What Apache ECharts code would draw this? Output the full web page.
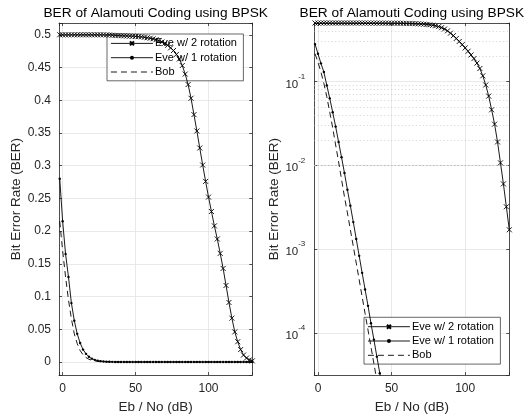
<!DOCTYPE html>
<html>
<head>
<meta charset="utf-8">
<script src="https://cdn.jsdelivr.net/npm/echarts@6/dist/echarts.min.js"></script>
<style>
html,body{margin:0;padding:0;background:#fff;}
#chart{width:531px;height:419px;}
</style>
</head>
<body>
<div id="chart"></div>
<script>
// ---- data ----
const ebNo = [-2,0,2,4,6,8,10,12,14,16,18,20,22,24,26,28,30,32,34,36,38,40,42,44,46,48,50,
  52,54,56,58,60,62,64,66,68,70,72,74,76,78,80,82,84,86,88,90,92,94,96,98,100,
  102,104,106,108,110,112,114,116,118,120,122,124,126,128,130];

const eve2Rot = [0.5,0.5,0.5,0.5,0.5,0.5,0.5,0.5,0.5,0.5,0.5,0.5,0.5,0.5,0.5,0.5,
  0.4998,0.4996,0.4993,0.499,0.4988,0.4986,0.4984,0.4982,0.498,0.4978,0.4975,0.4972,0.4968,0.4962,0.4955,
  0.4947,0.4938,0.4925,0.491,0.489,0.487,0.484,0.48,0.476,0.47,0.463,0.453,0.44,0.424,0.403,
  0.378,0.353,0.327,0.301,0.276,0.252,0.23,0.208,0.188,0.166,0.143,0.117,0.091,0.067,0.046,0.031,0.019,0.0107,0.006,0.0032,0.0017];

const eve1Rot = [0.28,0.215,0.165,0.13,0.09,0.063,0.043,0.029,0.019,0.0125,0.0081,0.0051,0.0033,0.0021,0.00132,0.00083,
  0.00052,0.00033,0.00021,0.00013,0.000083,0.000052,0.000033,0.000021,0.000013,0.000008,
  0,0,0,0,0,0,0,0,0,0,0,0,0,0,0,0,0,0,0,0,0,0,0,0,0,0,0,0,0,0,0,0,0,0,0,0,0,0,0,0,0];

const bob = [0.215,0.17,0.13,0.095,0.066,0.043,0.028,0.0175,0.011,0.0068,0.0042,0.0027,0.0017,0.00108,0.00068,0.00043,
  0.00027,0.00017,0.000108,0.000068,0.000043,0.000027,0.000017,0.000011,0.000007,
  0,0,0,0,0,0,0,0,0,0,0,0,0,0,0,0,0,0,0,0,0,0,0,0,0,0,0,0,0,0,0,0,0,0,0,0,0,0,0,0,0,0];

const seriesNames = ['Eve w/ 2 rotation','Eve w/ 1 rotation','Bob'];
const titleText = 'BER of Alamouti Coding using BPSK';
const xName = 'Eb / No (dB)';
const yName = 'Bit Error Rate (BER)';
const xTicks = [0,50,100];
const yTicksLin = [0,0.05,0.1,0.15,0.2,0.25,0.3,0.35,0.4,0.45,0.5];
const logTicks = [1e-4,1e-3,1e-2,1e-1];
const logMinor = [4e-5,5e-5,6e-5,7e-5,8e-5,9e-5,2e-4,3e-4,4e-4,5e-4,6e-4,7e-4,8e-4,9e-4,
  2e-3,3e-3,4e-3,5e-3,6e-3,7e-3,8e-3,9e-3,2e-2,3e-2,4e-2,5e-2,6e-2,7e-2,8e-2,9e-2,0.2,0.3,0.4];

// ---- layout / styles ----
const FONT = 'Liberation Sans, Arial, sans-serif';
const AX = '#262626';
const GRIDC = '#e3e3e3';
const xMin = -2.5, xMax = 130;
const linMin = -0.02, linMax = 0.518;
const logMin = 3.13e-5, logMax = 0.5;
const xSym = 'path://M0,0L10,10M10,0L0,10';

function pairs(ys, forLog){
  return ebNo.map((x,i)=>[x, (forLog && ys[i] <= 0) ? null : ys[i]]);
}
function near(v, list){ return list.some(t => Math.abs(t - v) < 1e-9); }

function xAxisDef(gridIndex, pos, labels){
  return {
    type:'value', gridIndex, position:pos, min:xMin, max:xMax, splitNumber:3,
    axisLine:{show:true, onZero:false, lineStyle:{color:AX, width:0.8}},
    axisTick:{show:true, inside:true, length:3, lineStyle:{color:AX, width:0.8}},
    axisLabel:{show:labels, margin:8, fontSize:12, fontFamily:FONT, color:AX,
      formatter:(v)=> near(v, xTicks) ? String(v) : ''},
    splitLine:{show:labels, lineStyle:{color:GRIDC, width:0.8}},
    name: labels && pos==='bottom' ? xName : '', nameLocation:'middle', nameGap:24.5,
    nameTextStyle:{fontSize:13.5, fontFamily:FONT, color:AX}
  };
}
function yLinDef(pos, labels){
  return {
    type:'value', gridIndex:0, position:pos, min:linMin, max:linMax, splitNumber:10,
    axisLine:{show:true, onZero:false, lineStyle:{color:AX, width:0.8}},
    axisTick:{show:true, inside:true, length:3, lineStyle:{color:AX, width:0.8}},
    axisLabel:{show:labels, margin:8, fontSize:12, fontFamily:FONT, color:AX,
      formatter:(v)=> near(v, yTicksLin) ? String(+v.toFixed(2)) : ''},
    splitLine:{show:labels, lineStyle:{color:GRIDC, width:0.8}},
    name: labels ? yName : '', nameLocation:'middle', nameGap:28,
    nameTextStyle:{fontSize:13.5, fontFamily:FONT, color:AX}
  };
}
function yLogDef(pos, labels){
  return {
    type:'log', logBase:10, gridIndex:1, position:pos, min:logMin, max:logMax,
    axisLine:{show:true, onZero:false, lineStyle:{color:AX, width:0.8}},
    axisTick:{show:true, inside:true, length:3, lineStyle:{color:AX, width:0.8}},
    axisLabel:{show:labels, margin:9, fontFamily:FONT, color:AX,
      formatter:(v)=>{
        const e = Math.round(Math.log10(v));
        if (!logTicks.some(t => Math.abs(Math.log10(t) - Math.log10(v)) < 1e-6)) return '';
        return '{b|10}{e|' + e + '}';
      },
      rich:{
        b:{fontSize:11.5, fontFamily:FONT, color:AX, lineHeight:18, verticalAlign:'bottom'},
        e:{fontSize:8, fontFamily:FONT, color:AX, lineHeight:10, verticalAlign:'top'}
      }
    },
    splitLine:{show:labels, lineStyle:{color:GRIDC, width:0.8}},
    name: labels ? yName : '', nameLocation:'middle', nameGap:25.5,
    nameTextStyle:{fontSize:13.5, fontFamily:FONT, color:AX}
  };
}

function makeSeries(gridIdx, forLog){
  const xi = gridIdx === 0 ? 0 : 2;
  const yi = gridIdx === 0 ? 0 : 2;
  return [
    { name:seriesNames[0], type:'line', xAxisIndex:xi, yAxisIndex:yi, data:pairs(eve2Rot, forLog),
      symbol:xSym, symbolSize:5, showAllSymbol:true, connectNulls:false, clip:true, z:5,
      lineStyle:{color:'#000', width:0.9},
      itemStyle:{color:'#000', borderColor:'#000', borderWidth:0.9} },
    { name:seriesNames[1], type:'line', xAxisIndex:xi, yAxisIndex:yi, data:pairs(eve1Rot, forLog),
      symbol:'circle', symbolSize:2.4, showAllSymbol:true, clip:true, z:5,
      lineStyle:{color:'#000', width:0.9},
      itemStyle:{color:'#000', borderWidth:0} },
    { name:seriesNames[2], type:'line', xAxisIndex:xi, yAxisIndex:yi, data:pairs(bob, forLog),
      showSymbol:false, symbol:'none', clip:true, z:5,
      lineStyle:{color:'#000', width:0.9, type:[6,4]},
      itemStyle:{color:'#000'} }
  ];
}

const minorSeries = {
  name:'minor', type:'line', xAxisIndex:2, yAxisIndex:2, data:[], silent:true, z:1,
  markLine:{ silent:true, symbol:['none','none'], animation:false,
    label:{show:false},
    lineStyle:{color:'#bdbdbd', width:0.7, type:[1,2.5]},
    emphasis:{disabled:true},
    data: logMinor.map(v=>({yAxis:v}))
  }
};

const legendData = [
  {name:seriesNames[0]},
  {name:seriesNames[1]},
  {name:seriesNames[2], itemStyle:{opacity:0, color:'transparent', borderWidth:0}}
];

const legendCommon = {
  orient:'vertical', itemWidth:42, itemHeight:5, itemGap:3.3,
  padding:[3.9,6.5,3.3,3.5], borderColor:AX, borderWidth:0.7, backgroundColor:'#fff',
  lineStyle:{width:0.9},
  textStyle:{fontSize:11, fontFamily:FONT, color:'#000', padding:[0,0,0,-3]},
  data: legendData, selectedMode:false
};

const option = {
  animation:false,
  backgroundColor:'#fff',
  title:[
    {text:titleText, left:155.7, top:6, textAlign:'center', padding:0,
      textStyle:{fontSize:13.7, fontWeight:'normal', fontFamily:FONT, color:'#000'}},
    {text:titleText, left:411.8, top:6, textAlign:'center', padding:0,
      textStyle:{fontSize:13.7, fontWeight:'normal', fontFamily:FONT, color:'#000'}}
  ],
  grid:[
    {left:59, top:23, width:193.3, height:353.7, containLabel:false},
    {left:314.3, top:23, width:195, height:353.7, containLabel:false}
  ],
  xAxis:[ xAxisDef(0,'bottom',true), xAxisDef(0,'top',false), xAxisDef(1,'bottom',true), xAxisDef(1,'top',false) ],
  yAxis:[ yLinDef('left',true), yLinDef('right',false), yLogDef('left',true), yLogDef('right',false) ],
  legend:[
    Object.assign({left:107, top:34}, legendCommon),
    Object.assign({left:364, top:317.3}, legendCommon)
  ],
  series:[ minorSeries ].concat(makeSeries(0,false), makeSeries(1,true))
};

const chart = echarts.init(document.getElementById('chart'), null, {renderer:'canvas'});
chart.setOption(option);
</script>
</body>
</html>
